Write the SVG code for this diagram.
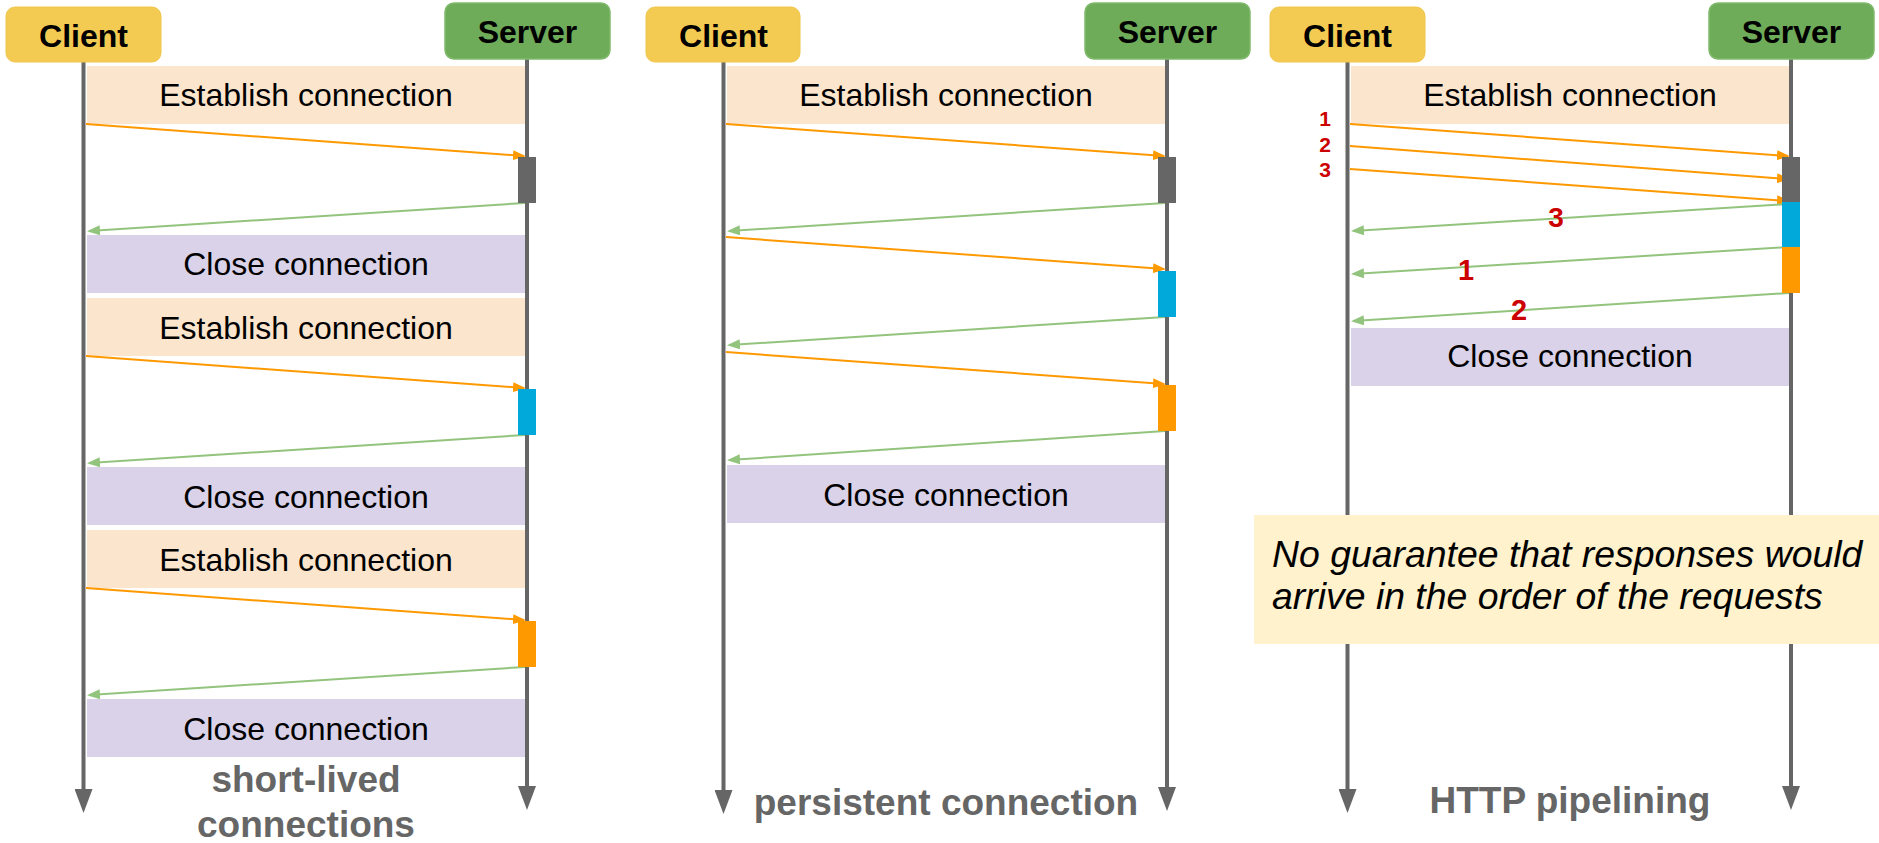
<svg xmlns="http://www.w3.org/2000/svg" width="1879" height="843" viewBox="0 0 1879 843">
<style>
text{font-family:"Liberation Sans",Arial,sans-serif}
.client{fill:#F3CB52;stroke:#F0C64A;stroke-width:1}
.server{fill:#6FAC5A;stroke:#80BA6C;stroke-width:1.5}
.hdr{font-size:32px;font-weight:bold;fill:#000;text-anchor:middle}
.est{fill:#FCE5CD}
.cls{fill:#D9D2E9}
.lbl{font-size:32px;fill:#000;text-anchor:middle}
.title{font-size:37px;font-weight:bold;fill:#666;text-anchor:middle}
.life{stroke:#666;stroke-width:4;fill:none}
.req{stroke:#FF9900;stroke-width:2;fill:none}
.res{stroke:#93C47D;stroke-width:2;fill:none}
.actg{fill:#666}
.actb{fill:#00A9DA}
.acto{fill:#FF9900}
.num{font-weight:bold;fill:#CC0000;text-anchor:middle}
.note{fill:#FFF2CC}
.notet{font-size:37.4px;font-style:italic;fill:#000}
</style>
<defs>
<marker id="lifeEnd" viewBox="0 0 24 18" refX="12" refY="9" markerWidth="24" markerHeight="18" markerUnits="userSpaceOnUse" orient="auto">
<path d="M0,0 L24,9 L0,18 z" fill="#666"/>
</marker>
<marker id="reqEnd" viewBox="0 0 13 10" refX="11" refY="5" markerWidth="13" markerHeight="10" markerUnits="userSpaceOnUse" orient="auto">
<path d="M0,0 L13,5 L0,10 z" fill="#FF9900"/>
</marker>
<marker id="resEnd" viewBox="0 0 13 10" refX="11" refY="5" markerWidth="13" markerHeight="10" markerUnits="userSpaceOnUse" orient="auto">
<path d="M0,0 L13,5 L0,10 z" fill="#93C47D"/>
</marker>
</defs>

<!-- ===== Panel 1: short-lived connections ===== -->
<g id="p1-phases">
<rect class="est" x="87" y="66" width="438" height="58"/>
<text class="lbl" x="306" y="106">Establish connection</text>
<rect class="cls" x="87" y="235" width="438" height="58"/>
<text class="lbl" x="306" y="275">Close connection</text>
<rect class="est" x="87" y="298" width="438" height="58"/>
<text class="lbl" x="306" y="339">Establish connection</text>
<rect class="cls" x="87" y="467" width="438" height="58"/>
<text class="lbl" x="306" y="508">Close connection</text>
<rect class="est" x="87" y="530" width="438" height="58"/>
<text class="lbl" x="306" y="571">Establish connection</text>
<rect class="cls" x="87" y="699" width="438" height="58"/>
<text class="lbl" x="306" y="740">Close connection</text>
</g>

<!-- ===== Panel 2: persistent connection ===== -->
<g id="p2-phases">
<rect class="est" x="727" y="66" width="438" height="58"/>
<text class="lbl" x="946" y="106">Establish connection</text>
<rect class="cls" x="727" y="465" width="438" height="58"/>
<text class="lbl" x="946" y="506">Close connection</text>
</g>

<!-- ===== Panel 3: HTTP pipelining ===== -->
<g id="p3-phases">
<rect class="est" x="1351" y="66" width="438" height="58"/>
<text class="lbl" x="1570" y="106">Establish connection</text>
<rect class="cls" x="1351" y="328" width="438" height="58"/>
<text class="lbl" x="1570" y="367">Close connection</text>
</g>

<g id="connectors">
<!-- lifelines -->
<line class="life" x1="83.5" y1="62" x2="83.5" y2="801" marker-end="url(#lifeEnd)"/>
<line class="life" x1="527" y1="59" x2="527" y2="798" marker-end="url(#lifeEnd)"/>
<line class="life" x1="723.5" y1="62" x2="723.5" y2="802" marker-end="url(#lifeEnd)"/>
<line class="life" x1="1167" y1="59" x2="1167" y2="799" marker-end="url(#lifeEnd)"/>
<line class="life" x1="1347.5" y1="62" x2="1347.5" y2="801" marker-end="url(#lifeEnd)"/>
<line class="life" x1="1791" y1="59" x2="1791" y2="798" marker-end="url(#lifeEnd)"/>
<!-- panel 1 messages -->
<line class="req" x1="86" y1="124" x2="524" y2="156" marker-end="url(#reqEnd)"/>
<line class="res" x1="525" y1="203" x2="89" y2="231" marker-end="url(#resEnd)"/>
<line class="req" x1="86" y1="356" x2="524" y2="388" marker-end="url(#reqEnd)"/>
<line class="res" x1="525" y1="435" x2="89" y2="463" marker-end="url(#resEnd)"/>
<line class="req" x1="86" y1="588" x2="524" y2="620" marker-end="url(#reqEnd)"/>
<line class="res" x1="525" y1="667" x2="89" y2="695" marker-end="url(#resEnd)"/>
<!-- panel 2 messages -->
<line class="req" x1="726" y1="124" x2="1164" y2="156" marker-end="url(#reqEnd)"/>
<line class="res" x1="1165" y1="203" x2="729" y2="231" marker-end="url(#resEnd)"/>
<line class="req" x1="726" y1="237" x2="1164" y2="269" marker-end="url(#reqEnd)"/>
<line class="res" x1="1165" y1="317" x2="729" y2="345" marker-end="url(#resEnd)"/>
<line class="req" x1="726" y1="352" x2="1164" y2="384" marker-end="url(#reqEnd)"/>
<line class="res" x1="1165" y1="431" x2="729" y2="460" marker-end="url(#resEnd)"/>
<!-- panel 3 messages -->
<line class="req" x1="1350" y1="124" x2="1788" y2="156" marker-end="url(#reqEnd)"/>
<line class="req" x1="1350" y1="146" x2="1788" y2="179" marker-end="url(#reqEnd)"/>
<line class="req" x1="1350" y1="169" x2="1788" y2="201" marker-end="url(#reqEnd)"/>
<line class="res" x1="1789" y1="204" x2="1353" y2="231" marker-end="url(#resEnd)"/>
<line class="res" x1="1789" y1="247" x2="1353" y2="274" marker-end="url(#resEnd)"/>
<line class="res" x1="1789" y1="293" x2="1353" y2="321" marker-end="url(#resEnd)"/>
</g>

<g id="p1-activations">
<rect class="actg" x="518" y="157" width="18" height="46"/>
<rect class="actb" x="518" y="389" width="18" height="46"/>
<rect class="acto" x="518" y="621" width="18" height="46"/>
</g>
<g id="p2-activations">
<rect class="actg" x="1158" y="157" width="18" height="46"/>
<rect class="actb" x="1158" y="271" width="18" height="46"/>
<rect class="acto" x="1158" y="385" width="18" height="46"/>
</g>
<g id="p3-activations">
<rect class="actg" x="1782" y="157" width="18" height="45"/>
<rect class="actb" x="1782" y="202" width="18" height="45"/>
<rect class="acto" x="1782" y="247" width="18" height="46"/>
</g>

<g id="p1-client"><rect class="client" x="6" y="7" width="155" height="55" rx="9"/><text class="hdr" x="83.5" y="47">Client</text></g>
<g id="p1-server"><rect class="server" x="445" y="3" width="165" height="56" rx="9"/><text class="hdr" x="527.5" y="43">Server</text></g>
<g id="p2-client"><rect class="client" x="646" y="7" width="154" height="55" rx="9"/><text class="hdr" x="723.5" y="47">Client</text></g>
<g id="p2-server"><rect class="server" x="1085" y="3" width="165" height="56" rx="9"/><text class="hdr" x="1167.5" y="43">Server</text></g>
<g id="p3-client"><rect class="client" x="1270" y="7" width="155" height="55" rx="9"/><text class="hdr" x="1347.5" y="47">Client</text></g>
<g id="p3-server"><rect class="server" x="1709" y="3" width="165" height="56" rx="9"/><text class="hdr" x="1791.5" y="43">Server</text></g>

<g id="p3-numbers">
<text class="num" x="1325" y="125.5" font-size="21">1</text>
<text class="num" x="1325" y="151.5" font-size="21">2</text>
<text class="num" x="1325" y="177" font-size="21">3</text>
<text class="num" x="1556" y="227" font-size="28">3</text>
<text class="num" x="1466" y="280" font-size="29">1</text>
<text class="num" x="1519" y="320" font-size="29">2</text>
</g>

<g id="p3-note">
<rect class="note" x="1254" y="515" width="625" height="129"/>
<text class="notet" x="1272" y="567">No guarantee that responses would</text>
<text class="notet" x="1272" y="609">arrive in the order of the requests</text>
</g>

<g id="titles">
<text class="title" x="306" y="792">short-lived</text>
<text class="title" x="306" y="837">connections</text>
<text class="title" x="946" y="815">persistent connection</text>
<text class="title" x="1570" y="813">HTTP pipelining</text>
</g>
</svg>
